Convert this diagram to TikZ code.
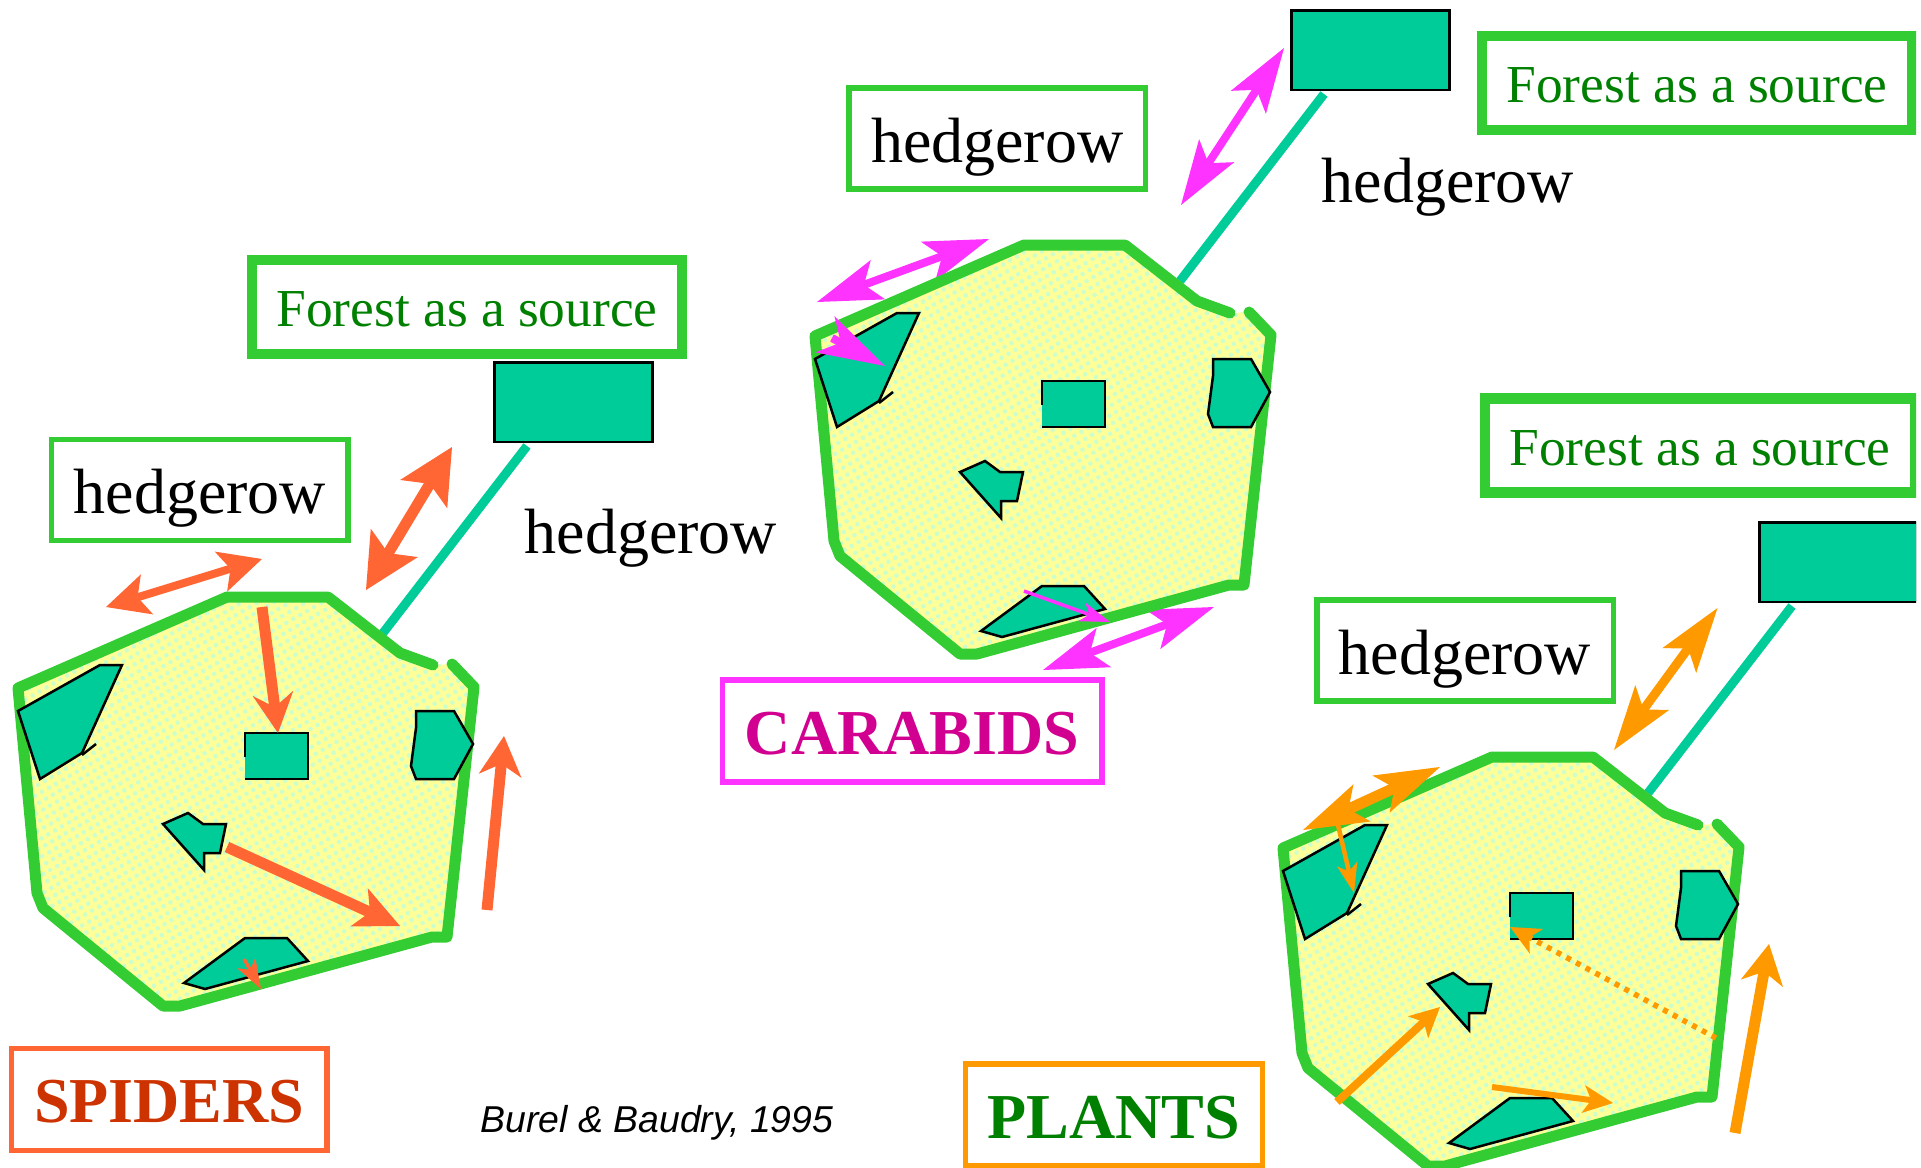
\documentclass[tikz,border=0pt]{standalone}
\usepackage{xcolor}
\usepackage{fontspec}
\setmainfont{Liberation Serif}
\setsansfont{Liberation Sans}
\usetikzlibrary{arrows.meta,patterns.meta}
\definecolor{hedgeGreen}{HTML}{33CC33}
\definecolor{woodTeal}{HTML}{00CC99}
\definecolor{fieldYellow}{HTML}{FFFF99}
\definecolor{fieldDot}{HTML}{CCFFCC}
\definecolor{spiderCol}{HTML}{FF6633}
\definecolor{spiderText}{HTML}{CC3300}
\definecolor{carabCol}{HTML}{FF33FF}
\definecolor{carabText}{HTML}{D20090}
\definecolor{plantCol}{HTML}{FF9900}
\definecolor{darkGreen}{HTML}{008000}

\begin{document}
\begin{tikzpicture}[x=1pt,y=-1pt]
    \tikzset{
        oneHead/.style n args={3}{-{Stealth[length=#1pt,width=#2pt,inset=#3pt,line width=0pt]}},
        twoHead/.style n args={3}{{Stealth[length=#1pt,width=#2pt,inset=#3pt,line width=0pt]}-{Stealth[length=#1pt,width=#2pt,inset=#3pt,line width=0pt]}},
        patch/.style={draw=black,fill=woodTeal,line width=2.5pt},
        forestBox/.style={patch,minimum width=158pt,minimum height=79.5pt,inner sep=0pt},
        corridor/.style={draw=woodTeal,line width=9pt},
        margin/.style={draw=hedgeGreen,line width=11pt,line join=round,line cap=round},
        sourceBox/.style={draw=hedgeGreen,line width=10.5pt,minimum width=430pt,minimum height=94pt,inner sep=0pt,
            text=darkGreen,text height=39pt,text depth=0pt,font=\fontsize{53.4pt}{60pt}\selectfont},
        hedgeBox/.style={draw=hedgeGreen,line width=5.5pt,minimum width=296.5pt,minimum height=101pt,inner sep=0pt,
            text height=47.5pt,text depth=0pt,font=\fontsize{64pt}{70pt}\selectfont},
        hedgeText/.style={anchor=base,inner sep=0pt,font=\fontsize{64pt}{70pt}\selectfont},
        groupBox/.style={line width=5.5pt,minimum height=102pt,inner sep=0pt,
            text height=46pt,text depth=0pt,font=\fontsize{64pt}{70pt}\selectfont\bfseries}
    }
    \useasboundingbox (0,0) rectangle (1921,1167);
    % the slide stops short of the right edge
    \clip (0,0) rectangle (1916,1167);
    % arrows under the margins
    \draw[carabCol,twoHead={65}{42}{15},line width=8pt] (817,302) -- (989,239);
    \draw[carabCol,twoHead={65}{42}{15},line width=8pt] (1043,670) -- (1214,607);
    % the three landscapes
    \foreach \dx/\dy/\n in {0/0/A,797/-352/B,1265/160/C} {
        \begin{scope}[shift={(\dx,\dy)}]
            \coordinate (top\n) at (527,446);
            \coordinate (edge\n) at (383,633);
            \draw[corridor] (top\n) -- (edge\n);
            \path[preaction={fill=fieldYellow},pattern={Dots[distance=8pt,radius=2.3pt,angle=30]},pattern color=fieldDot]
                (452,664) -- (474,687) -- (447,937) -- (432,937) -- (180,1006) -- (163,1006) -- (43,908) -- (37,893)
                -- (18,688) -- (227,597) -- (328,597) -- (400,653) -- (433,665) -- cycle;
            \draw[margin] (452,664) -- (474,687) -- (447,937) -- (432,937) -- (180,1006) -- (163,1006) -- (43,908) -- (37,893)
                -- (18,688) -- (227,597) -- (328,597) -- (400,653) -- (433,665);
            % woods
            \fill[woodTeal] (245,733) rectangle (308,779);
            \draw[patch,fill=none] (245,757) -- (245,733) -- (308,733) -- (308,779) -- (245,779);
            \draw[patch] (18,711) -- (100,665) -- (122,665) -- (82,753) -- (40,779) -- cycle;
            \draw[patch] (82,755) -- (96,744);
            \draw[patch] (416,711) -- (454,711) -- (473,744) -- (454,779) -- (416,779) -- (411,766) -- (416,728) -- cycle;
            \draw[patch] (163,824) -- (188,813) -- (203,824) -- (226,824) -- (220,853) -- (204,853) -- (204,870) -- cycle;
            \draw[patch] (184,983) -- (245,938) -- (287,938) -- (308,961) -- (205,989) -- cycle;
            \node[forestBox] (forest\n) at (573.3,402) {};
        \end{scope}
    }
    % spiders
    \draw[spiderCol,twoHead={55}{55}{12},line width=11pt] (366,590) -- (452,447);
    \draw[spiderCol,twoHead={43}{42}{10},line width=8pt] (106,607) -- (262,559);
    \draw[spiderCol,oneHead={40}{41}{14},line width=11pt] (262,607) -- (278,733);
    \draw[spiderCol,oneHead={45}{42}{12},line width=11pt] (227,847) -- (400,926);
    \draw[spiderCol,oneHead={40}{43}{12},line width=11pt] (487,910) -- (504,736);
    \draw[spiderCol,oneHead={30}{21}{8},line width=3.5pt] (244,959) -- (261,989);
    % carabids
    \draw[carabCol,twoHead={65}{42}{15},line width=8pt] (1181,205) -- (1284,48);
    \draw[carabCol,oneHead={68}{41}{18},line width=8pt] (832,338) -- (885,366);
    \draw[carabCol,oneHead={30}{20}{8},line width=3.5pt] (1024,591) -- (1110,622);
    % plants
    \draw[plantCol,twoHead={65}{42}{15},line width=9pt] (1614,750) -- (1717.5,608);
    \draw[plantCol,twoHead={65}{41}{15},line width=11pt] (1303,830) -- (1440,767);
    \draw[plantCol,oneHead={30}{21}{8},line width=4.5pt] (1338,825) -- (1354,893);
    \draw[plantCol,oneHead={30}{30}{8},line width=8pt] (1337,1102) -- (1440,1007);
    \draw[plantCol,oneHead={30}{28}{8},line width=6pt] (1492,1087) -- (1613,1103);
    \draw[plantCol,oneHead={30}{28}{8},line width=5.5pt,dash pattern=on 5pt off 6pt] (1716,1038) -- (1510,927);
    \draw[plantCol,oneHead={40}{43}{12},line width=11pt] (1735,1133) -- (1769,944);
    % labels
    \node[sourceBox] (sourceA) at (467,307) {Forest as a source};
    \node[sourceBox] (sourceB) at (1697,83) {Forest as a source};
    \node[sourceBox] (sourceC) at (1700,445.5) {Forest as a source};
    \node[hedgeBox] (hedgeA) at (199.8,490) {hedgerow};
    \node[hedgeBox] (hedgeB) at (997.3,138.5) {hedgerow};
    \node[hedgeBox] (hedgeC) at (1465,650.5) {hedgerow};
    \node[hedgeText] (rowA) at (651,553) {hedgerow};
    \node[hedgeText] (rowB) at (1448,202) {hedgerow};
    \node[groupBox,draw=spiderCol,text=spiderText,minimum width=315.5pt] (spiders) at (169.3,1099.5) {SPIDERS};
    \node[groupBox,draw=carabCol,text=carabText,minimum width=379.5pt] (carabids) at (912,731) {CARABIDS};
    \node[groupBox,draw=plantCol,text=darkGreen,minimum width=297pt] (plants) at (1114,1115) {PLANTS};
    \node[anchor=base,inner sep=0pt,font=\fontsize{37.4pt}{42pt}\selectfont\sffamily\itshape] (credit) at (657,1132) {Burel \& Baudry, 1995};
\end{tikzpicture}
\end{document}
